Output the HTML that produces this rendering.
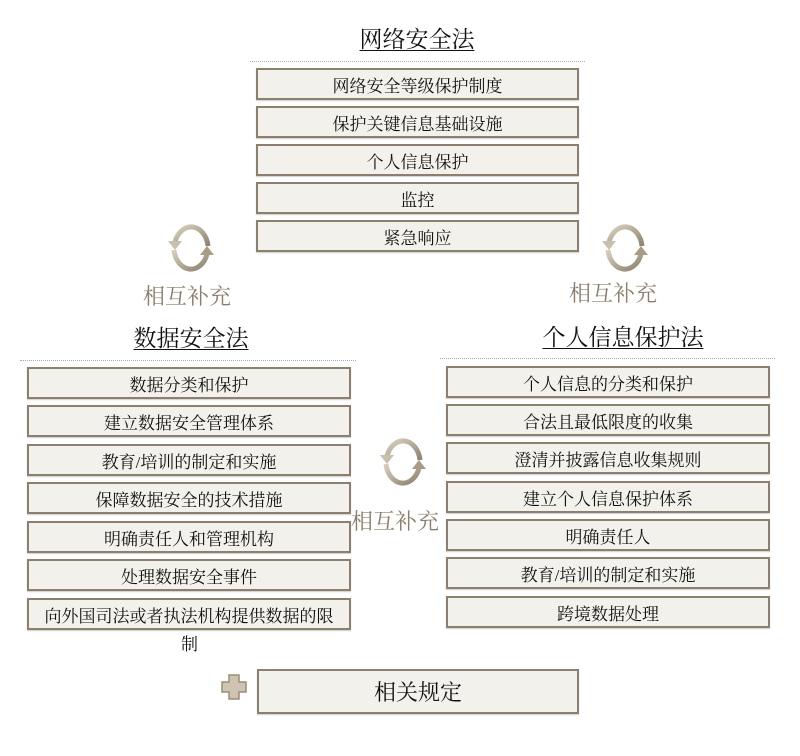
<!DOCTYPE html>
<html><head><meta charset="utf-8"><style>
body{margin:0;width:800px;height:756px;background:#fff;position:relative;overflow:hidden;font-family:"Liberation Serif","Noto Serif CJK SC",serif;color:#111}
.b{position:absolute;box-sizing:border-box;background:#f3f1ec;border:2px solid #8b7f6e;text-align:center;font-size:17px;display:flex;align-items:center;justify-content:center;box-shadow:0 1px 1px #ccc}
.t{position:absolute;font-size:23px;text-decoration:underline;text-underline-offset:3px;text-decoration-thickness:1px;transform:translateX(-50%);white-space:nowrap}
.d{position:absolute;border-top:1px dotted #aaa;height:0}
.l{position:absolute;font-size:22px;color:#8b7d6b;transform:translateX(-50%);white-space:nowrap;font-family:"Noto Serif CJK SC",serif}
svg.c{position:absolute}
</style></head><body>
<div class="t" style="left:417px;top:21px">网络安全法</div>
<div class="d" style="left:250px;top:61px;width:335px"></div>
<div class="b" style="left:256px;top:68px;width:323px;height:32px">网络安全等级保护制度</div>
<div class="b" style="left:256px;top:106px;width:323px;height:32px">保护关键信息基础设施</div>
<div class="b" style="left:256px;top:144px;width:323px;height:32px">个人信息保护</div>
<div class="b" style="left:256px;top:182px;width:323px;height:32px">监控</div>
<div class="b" style="left:256px;top:220px;width:323px;height:32px">紧急响应</div>

<div class="t" style="left:191px;top:320px">数据安全法</div>
<div class="d" style="left:20px;top:360px;width:336px"></div>
<div class="b" style="left:27px;top:367px;width:324px;height:32px">数据分类和保护</div>
<div class="b" style="left:27px;top:405px;width:324px;height:32px">建立数据安全管理体系</div>
<div class="b" style="left:27px;top:444px;width:324px;height:32px">教育/培训的制定和实施</div>
<div class="b" style="left:27px;top:482px;width:324px;height:32px">保障数据安全的技术措施</div>
<div class="b" style="left:27px;top:521px;width:324px;height:32px">明确责任人和管理机构</div>
<div class="b" style="left:27px;top:559px;width:324px;height:32px">处理数据安全事件</div>
<div class="b" style="left:27px;top:598px;width:324px;height:32px">向外国司法或者执法机构提供数据的限</div>
<div style="position:absolute;left:181px;top:630px;font-size:17px">制</div>

<div class="t" style="left:623px;top:319px">个人信息保护法</div>
<div class="d" style="left:440px;top:358px;width:335px"></div>
<div class="b" style="left:446px;top:366px;width:324px;height:32px">个人信息的分类和保护</div>
<div class="b" style="left:446px;top:404px;width:324px;height:32px">合法且最低限度的收集</div>
<div class="b" style="left:446px;top:442px;width:324px;height:32px">澄清并披露信息收集规则</div>
<div class="b" style="left:446px;top:481px;width:324px;height:32px">建立个人信息保护体系</div>
<div class="b" style="left:446px;top:519px;width:324px;height:32px">明确责任人</div>
<div class="b" style="left:446px;top:557px;width:324px;height:32px">教育/培训的制定和实施</div>
<div class="b" style="left:446px;top:596px;width:324px;height:32px">跨境数据处理</div>

<div class="b" style="left:257px;top:669px;width:322px;height:45px;font-size:22px">相关规定</div>
<svg class="c" style="left:221px;top:674px" width="26" height="26"><path d="M8 1h10v7h7v10h-7v7H8v-7H1V8h7z" fill="#cfc4b1" stroke="#9a8d78" stroke-width="1.5"/></svg>

<svg width="0" height="0" style="position:absolute"><defs><linearGradient id="g" x1="0" y1="0" x2="1" y2="1"><stop offset="0" stop-color="#d8d0bf"/><stop offset="1" stop-color="#8d826f"/></linearGradient></defs></svg>
<svg class="c" style="left:168px;top:220px" width="46" height="56" viewBox="0 0 46 56">
<path d="M7 22 A17 22 0 0 1 40 26" fill="none" stroke="url(#g)" stroke-width="5"/>
<path d="M39 34 A17 22 0 0 1 6 30" fill="none" stroke="url(#g)" stroke-width="5"/>
<path d="M0 21 L14 21 L7 30 Z" fill="#c8bfae"/><path d="M32 35 L46 35 L39 26 Z" fill="#a89c87"/>
</svg>
<div class="l" style="left:187px;top:280px">相互补充</div>
<svg class="c" style="left:602px;top:220px" width="46" height="56" viewBox="0 0 46 56">
<path d="M7 22 A17 22 0 0 1 40 26" fill="none" stroke="url(#g)" stroke-width="5"/>
<path d="M39 34 A17 22 0 0 1 6 30" fill="none" stroke="url(#g)" stroke-width="5"/>
<path d="M0 21 L14 21 L7 30 Z" fill="#c8bfae"/><path d="M32 35 L46 35 L39 26 Z" fill="#a89c87"/>
</svg>
<div class="l" style="left:613px;top:277px">相互补充</div>
<svg class="c" style="left:380px;top:434px" width="46" height="56" viewBox="0 0 46 56">
<path d="M7 22 A17 22 0 0 1 40 26" fill="none" stroke="url(#g)" stroke-width="5"/>
<path d="M39 34 A17 22 0 0 1 6 30" fill="none" stroke="url(#g)" stroke-width="5"/>
<path d="M0 21 L14 21 L7 30 Z" fill="#c8bfae"/><path d="M32 35 L46 35 L39 26 Z" fill="#a89c87"/>
</svg>
<div class="l" style="left:395px;top:505px">相互补充</div>
</body></html>
